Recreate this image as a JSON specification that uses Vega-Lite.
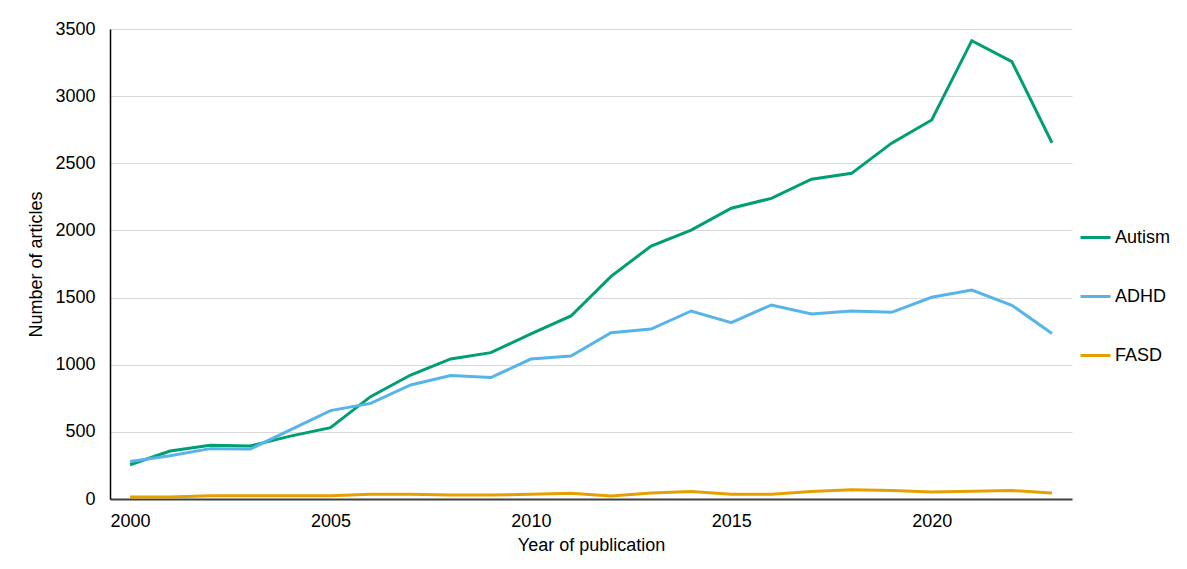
{
  "$schema": "https://vega.github.io/schema/vega-lite/v6.json",
  "autosize": {"type": "none"},
  "padding": {"left": 110, "top": 29, "right": 115, "bottom": 70},
  "width": 962,
  "height": 470,
  "background": "white",
  "config": {
    "font": "Liberation Sans",
    "view": {"stroke": null}
  },
  "datasets": {
    "articles": [
      {"year": 2000, "condition": "Autism", "count": 255},
      {"year": 2001, "condition": "Autism", "count": 357},
      {"year": 2002, "condition": "Autism", "count": 400},
      {"year": 2003, "condition": "Autism", "count": 395},
      {"year": 2004, "condition": "Autism", "count": 468},
      {"year": 2005, "condition": "Autism", "count": 531},
      {"year": 2006, "condition": "Autism", "count": 762},
      {"year": 2007, "condition": "Autism", "count": 923},
      {"year": 2008, "condition": "Autism", "count": 1043},
      {"year": 2009, "condition": "Autism", "count": 1090},
      {"year": 2010, "condition": "Autism", "count": 1230},
      {"year": 2011, "condition": "Autism", "count": 1363},
      {"year": 2012, "condition": "Autism", "count": 1658},
      {"year": 2013, "condition": "Autism", "count": 1884},
      {"year": 2014, "condition": "Autism", "count": 2003},
      {"year": 2015, "condition": "Autism", "count": 2165},
      {"year": 2016, "condition": "Autism", "count": 2239},
      {"year": 2017, "condition": "Autism", "count": 2381},
      {"year": 2018, "condition": "Autism", "count": 2425},
      {"year": 2019, "condition": "Autism", "count": 2650},
      {"year": 2020, "condition": "Autism", "count": 2822},
      {"year": 2021, "condition": "Autism", "count": 3413},
      {"year": 2022, "condition": "Autism", "count": 3257},
      {"year": 2023, "condition": "Autism", "count": 2653},
      {"year": 2000, "condition": "ADHD", "count": 280},
      {"year": 2001, "condition": "ADHD", "count": 322},
      {"year": 2002, "condition": "ADHD", "count": 375},
      {"year": 2003, "condition": "ADHD", "count": 372},
      {"year": 2004, "condition": "ADHD", "count": 514},
      {"year": 2005, "condition": "ADHD", "count": 658},
      {"year": 2006, "condition": "ADHD", "count": 712},
      {"year": 2007, "condition": "ADHD", "count": 849},
      {"year": 2008, "condition": "ADHD", "count": 920},
      {"year": 2009, "condition": "ADHD", "count": 904},
      {"year": 2010, "condition": "ADHD", "count": 1042},
      {"year": 2011, "condition": "ADHD", "count": 1065},
      {"year": 2012, "condition": "ADHD", "count": 1238},
      {"year": 2013, "condition": "ADHD", "count": 1266},
      {"year": 2014, "condition": "ADHD", "count": 1400},
      {"year": 2015, "condition": "ADHD", "count": 1313},
      {"year": 2016, "condition": "ADHD", "count": 1445},
      {"year": 2017, "condition": "ADHD", "count": 1378},
      {"year": 2018, "condition": "ADHD", "count": 1400},
      {"year": 2019, "condition": "ADHD", "count": 1390},
      {"year": 2020, "condition": "ADHD", "count": 1502},
      {"year": 2021, "condition": "ADHD", "count": 1556},
      {"year": 2022, "condition": "ADHD", "count": 1443},
      {"year": 2023, "condition": "ADHD", "count": 1233},
      {"year": 2000, "condition": "FASD", "count": 15},
      {"year": 2001, "condition": "FASD", "count": 15},
      {"year": 2002, "condition": "FASD", "count": 24},
      {"year": 2003, "condition": "FASD", "count": 24},
      {"year": 2004, "condition": "FASD", "count": 24},
      {"year": 2005, "condition": "FASD", "count": 25},
      {"year": 2006, "condition": "FASD", "count": 35},
      {"year": 2007, "condition": "FASD", "count": 35},
      {"year": 2008, "condition": "FASD", "count": 30},
      {"year": 2009, "condition": "FASD", "count": 30},
      {"year": 2010, "condition": "FASD", "count": 35},
      {"year": 2011, "condition": "FASD", "count": 43},
      {"year": 2012, "condition": "FASD", "count": 22},
      {"year": 2013, "condition": "FASD", "count": 45},
      {"year": 2014, "condition": "FASD", "count": 55},
      {"year": 2015, "condition": "FASD", "count": 35},
      {"year": 2016, "condition": "FASD", "count": 35},
      {"year": 2017, "condition": "FASD", "count": 55},
      {"year": 2018, "condition": "FASD", "count": 68},
      {"year": 2019, "condition": "FASD", "count": 63},
      {"year": 2020, "condition": "FASD", "count": 52},
      {"year": 2021, "condition": "FASD", "count": 57},
      {"year": 2022, "condition": "FASD", "count": 63},
      {"year": 2023, "condition": "FASD", "count": 45}
    ]
  },
  "data": {"name": "articles"},
  "mark": {"type": "line", "strokeWidth": 3, "strokeJoin": "miter", "interpolate": "linear"},
  "encoding": {
    "x": {
      "field": "year",
      "type": "quantitative",
      "scale": {"domain": [1999.5, 2023.5], "nice": false, "zero": false},
      "axis": {
        "title": "Year of publication",
        "values": [2000, 2005, 2010, 2015, 2020],
        "format": "d",
        "grid": false,
        "ticks": false,
        "labelFont": "Liberation Sans",
        "labelFontSize": 18,
        "labelColor": "#000000",
        "titleFont": "Liberation Sans",
        "titleFontSize": 18,
        "titleFontWeight": "normal",
        "titleColor": "#000000",
        "labelPadding": 13,
        "titlePadding": 6,
        "domainColor": "#404040",
        "domainWidth": 2
      }
    },
    "y": {
      "field": "count",
      "type": "quantitative",
      "scale": {"domain": [0, 3500], "nice": false},
      "axis": {
        "title": "Number of articles",
        "values": [0, 500, 1000, 1500, 2000, 2500, 3000, 3500],
        "format": "d",
        "grid": true,
        "gridColor": "#d9d9d9",
        "gridWidth": 1,
        "ticks": false,
        "labelFont": "Liberation Sans",
        "labelFontSize": 18,
        "labelColor": "#000000",
        "titleFont": "Liberation Sans",
        "titleFontSize": 18,
        "titleFontWeight": "normal",
        "titleColor": "#000000",
        "labelPadding": 15,
        "titlePadding": 9,
        "domainColor": "#000000",
        "domainWidth": 1.5
      }
    },
    "color": {
      "field": "condition",
      "type": "nominal",
      "scale": {"domain": ["Autism", "ADHD", "FASD"], "range": ["#009E73", "#56B4E9", "#E69F00"]},
      "legend": {
        "title": null,
        "orient": "none",
        "legendX": 969,
        "legendY": 192,
        "symbolType": "stroke",
        "symbolSize": 900,
        "symbolStrokeWidth": 3,
        "labelFont": "Liberation Sans",
        "labelFontSize": 18,
        "labelColor": "#000000",
        "labelOffset": 3,
        "rowPadding": 33
      }
    }
  }
}
